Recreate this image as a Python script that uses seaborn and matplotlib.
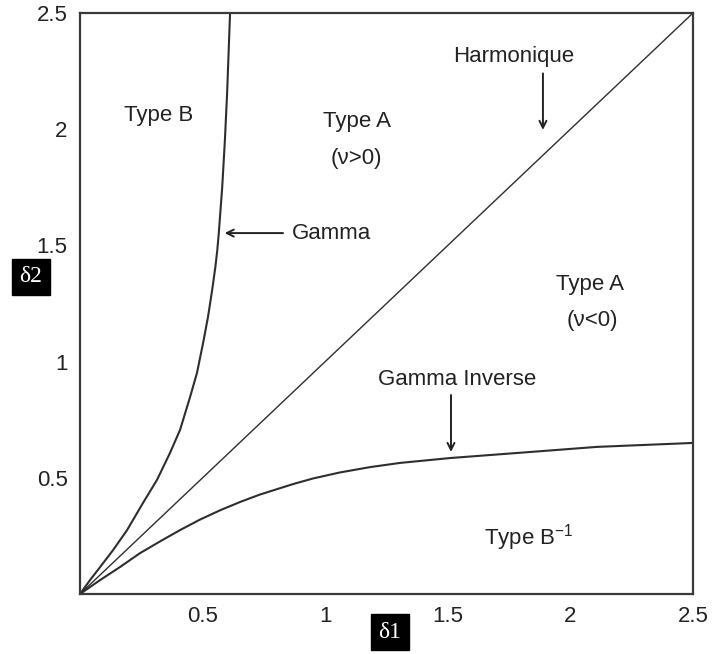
import matplotlib
matplotlib.use("Agg")
import matplotlib.pyplot as plt
import seaborn as sns
import pandas as pd

# ---- data ----
gamma_x = [0.0, 0.041, 0.082, 0.135, 0.192, 0.257, 0.314, 0.367, 0.408, 0.449, 0.477,
           0.502, 0.522, 0.539, 0.552, 0.560, 0.566, 0.580, 0.591, 0.600, 0.612]
gamma_y = [0.0, 0.060, 0.116, 0.189, 0.275, 0.392, 0.491, 0.607, 0.706, 0.848, 0.951,
           1.080, 1.192, 1.308, 1.407, 1.480, 1.553, 1.751, 1.954, 2.156, 2.5]

harm_x = [0.0, 2.5]
harm_y = [0.0, 2.5]

ginv_x = [0.0, 0.082, 0.163, 0.245, 0.326, 0.408, 0.489, 0.571, 0.653, 0.734, 0.869,
          0.950, 1.060, 1.183, 1.305, 1.509, 1.835, 2.108, 2.5]
ginv_y = [0.0, 0.060, 0.116, 0.176, 0.226, 0.275, 0.320, 0.360, 0.396, 0.428, 0.473,
          0.497, 0.523, 0.546, 0.564, 0.585, 0.611, 0.633, 0.650]

tick_vals = [0.5, 1, 1.5, 2, 2.5]
tick_labels = ["0.5", "1", "1.5", "2", "2.5"]

sns.set_style("white")
plt.rcParams["font.family"] = ["Liberation Sans", "DejaVu Sans"]
plt.rcParams["mathtext.fontset"] = "custom"
plt.rcParams["mathtext.rm"] = "Liberation Sans"
plt.rcParams["mathtext.default"] = "regular"

fig, ax = plt.subplots(figsize=(7.14, 6.54), dpi=100)
fig.subplots_adjust(left=80 / 714, right=693 / 714, bottom=1 - 594 / 654, top=1 - 13 / 654)

line_col = "#2e2e2e"
gamma_df = pd.DataFrame({"x": gamma_x, "y": gamma_y})
harm_df = pd.DataFrame({"x": harm_x, "y": harm_y})
ginv_df = pd.DataFrame({"x": ginv_x, "y": ginv_y})
sns.lineplot(data=gamma_df, x="x", y="y", ax=ax, color=line_col, lw=1.5, sort=False, estimator=None)
sns.lineplot(data=harm_df, x="x", y="y", ax=ax, color=line_col, lw=1.0, sort=False, estimator=None)
sns.lineplot(data=ginv_df, x="x", y="y", ax=ax, color=line_col, lw=1.5, sort=False, estimator=None)

ax.set_xlim(0, 2.5)
ax.set_ylim(0, 2.5)
ax.set_xticks(tick_vals)
ax.set_xticklabels(tick_labels)
ax.set_yticks(tick_vals)
ax.set_yticklabels(tick_labels)
ax.tick_params(direction="in", length=6, width=1.5, color="#3a3a3a", labelsize=16,
               labelcolor="#222222", pad=9)
ax.set_xlabel("")
ax.set_ylabel("")
for sp in ax.spines.values():
    sp.set_visible(True)
    sp.set_color("#3a3a3a")
    sp.set_linewidth(1.6)

fs = 16
tc = "#222222"
ax.text(0.322, 2.057, "Type B", fontsize=fs, ha="center", va="center", color=tc)
ax.text(1.130, 2.031, "Type A", fontsize=fs, ha="center", va="center", color=tc)
ax.text(1.128, 1.875, "(ν>0)", fontsize=fs, ha="center", va="center", color=tc)
ax.text(2.080, 1.330, "Type A", fontsize=fs, ha="center", va="center", color=tc)
ax.text(2.088, 1.179, "(ν<0)", fontsize=fs, ha="center", va="center", color=tc)
ax.text(1.831, 0.241, "Type B$^{-1}$", fontsize=fs, ha="center", va="center", color=tc)

arrow = dict(arrowstyle="->,head_length=0.5,head_width=0.25", color=tc, lw=1.4,
             shrinkA=0, shrinkB=0)
ax.annotate("", xy=(1.888, 1.997), xytext=(1.888, 2.240), arrowprops=arrow)
ax.text(1.770, 2.311, "Harmonique", fontsize=fs, ha="center", va="center", color=tc)

ax.annotate("", xy=(0.590, 1.553), xytext=(0.828, 1.553), arrowprops=arrow)
ax.text(0.865, 1.553, "Gamma", fontsize=fs, ha="left", va="center", color=tc)

ax.annotate("", xy=(1.513, 0.611), xytext=(1.513, 0.856), arrowprops=arrow)
ax.text(1.538, 0.921, "Gamma Inverse", fontsize=fs, ha="center", va="center", color=tc)

box = dict(boxstyle="square,pad=0.3", facecolor="black", edgecolor="black")
fig.text(31 / 714, 1 - 277 / 654, "δ2", fontsize=17, color="white", ha="center", va="center",
         family=["Liberation Serif", "DejaVu Serif"], bbox=box)
fig.text(390 / 714, 1 - 632 / 654, "δ1", fontsize=17, color="white", ha="center", va="center",
         family=["Liberation Serif", "DejaVu Serif"], bbox=box)

fig.savefig("out.png", dpi=100)
